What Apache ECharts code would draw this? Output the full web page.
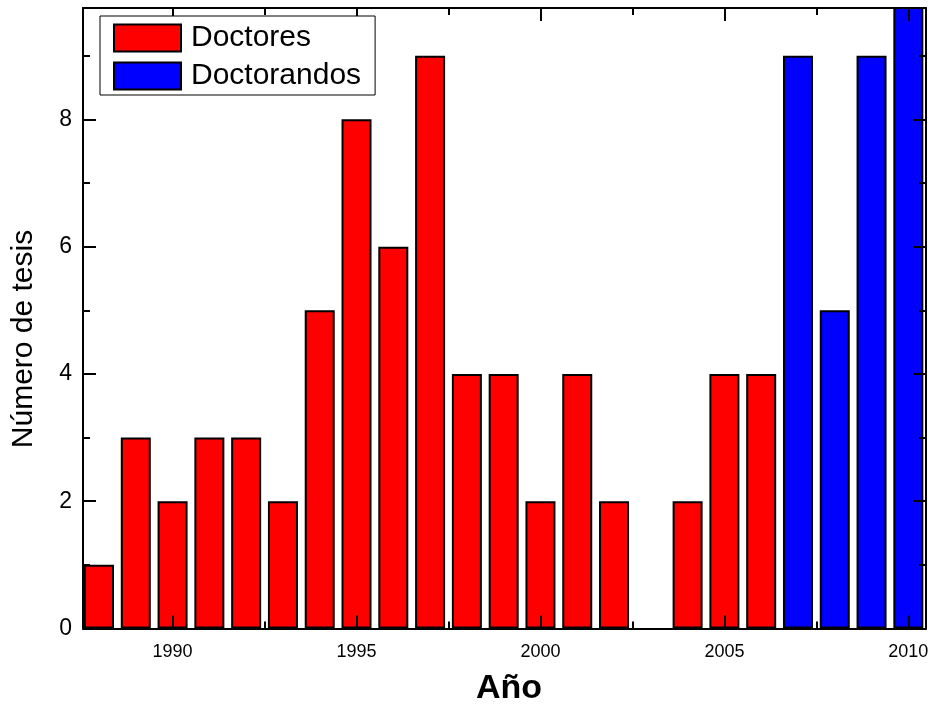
<!DOCTYPE html>
<html>
<head>
<meta charset="utf-8">
<script src="https://cdn.jsdelivr.net/npm/echarts@6/dist/echarts.min.js"></script>
<style>html,body{margin:0;padding:0;background:#fff}#c{width:933px;height:707px}</style>
</head>
<body>
<div id="c"></div>
<script>
var doctoresYears = [1988,1989,1990,1991,1992,1993,1994,1995,1996,1997,1998,1999,2000,2001,2002,2003,2004,2005,2006];
var doctoresValues = [1,3,2,3,3,2,5,8,6,9,4,4,2,4,2,0,2,4,4];
var doctorandosYears = [2007,2008,2009,2010];
var doctorandosValues = [9,5,9,10];
var xMajorTicks = [1990,1995,2000,2005,2010];
var xMinorTicks = [1992.5,1997.5,2002.5,2007.5];
var yMajorTicks = [0,2,4,6,8];
var yMinorTicks = [1,3,5,7,9];
var xMin = 1987.565, xMax = 2010.48, yMin = 0, yMax = 9.75;

var FONT = 'Liberation Sans, Arial, sans-serif';
var gridPos = {left: 83, right: 7, top: 8, bottom: 78.5};

function xAx(gridIndex, pos, ticks, len, labels, showLine) {
  return {
    type: 'value', gridIndex: gridIndex, position: pos, min: xMin, max: xMax, z: 5,
    axisLine: {show: showLine, onZero: false, lineStyle: {color: '#000', width: 2}},
    axisTick: {show: true, inside: true, length: len, customValues: ticks, lineStyle: {color: '#000', width: 2}},
    axisLabel: labels ? {show: true, customValues: ticks, color: '#000', fontFamily: FONT, fontSize: 18, margin: 15,
      formatter: function (v) { return String(Math.round(v)); }} : {show: false},
    splitLine: {show: false}
  };
}
function yAx(gridIndex, pos, ticks, len, labels, showLine) {
  return {
    type: 'value', gridIndex: gridIndex, position: pos, min: yMin, max: yMax, z: 5,
    axisLine: {show: showLine, onZero: false, lineStyle: {color: '#000', width: 2}},
    axisTick: {show: true, inside: true, length: len, customValues: ticks, lineStyle: {color: '#000', width: 2}},
    axisLabel: labels ? {show: true, customValues: ticks, color: '#000', fontFamily: FONT, fontSize: 23, margin: 11} : {show: false},
    splitLine: {show: false}
  };
}
function pairs(years, values) {
  var out = [];
  for (var i = 0; i < years.length; i++) {
    if (values[i] > 0) out.push([years[i], values[i]]);
  }
  return out;
}

var chart = echarts.init(document.getElementById('c'), null, {renderer: 'canvas'});
chart.setOption({
  animation: false,
  backgroundColor: '#fff',
  grid: [
    Object.assign({}, gridPos),
    Object.assign({}, gridPos)
  ],
  xAxis: [
    xAx(0, 'bottom', xMajorTicks, 13, true, true),
    xAx(0, 'top', xMajorTicks, 13, false, true),
    xAx(1, 'bottom', xMinorTicks, 7, false, false),
    xAx(1, 'top', xMinorTicks, 7, false, false)
  ],
  yAxis: [
    yAx(0, 'left', yMajorTicks, 13, true, true),
    yAx(0, 'right', yMajorTicks, 13, false, true),
    yAx(1, 'left', yMinorTicks, 7, false, false),
    yAx(1, 'right', yMinorTicks, 7, false, false)
  ],
  legend: {
    left: 100, top: 16, orient: 'vertical', z: 10,
    backgroundColor: '#fff', borderColor: '#000', borderWidth: 1,
    padding: [7, 14, 4, 13],
    itemWidth: 67, itemHeight: 27, itemGap: 8,
    icon: 'rect',
    textStyle: {color: '#000', fontFamily: FONT, fontSize: 30, padding: [0, 0, 0, 5]},
    data: ['Doctores', 'Doctorandos']
  },
  series: [
    {
      name: 'Doctores', type: 'bar', xAxisIndex: 0, yAxisIndex: 0,
      barWidth: 30, barGap: '-100%', clip: true,
      itemStyle: {color: '#ff0000', borderColor: '#000', borderWidth: 2},
      data: pairs(doctoresYears, doctoresValues)
    },
    {
      name: 'Doctorandos', type: 'bar', xAxisIndex: 0, yAxisIndex: 0,
      barWidth: 30, barGap: '-100%', clip: true,
      itemStyle: {color: '#0000ff', borderColor: '#000', borderWidth: 2},
      data: pairs(doctorandosYears, doctorandosValues)
    }
  ],
  graphic: [
    {type: 'text', left: 516 - 40, top: 690 - 18, z: 10,
     style: {text: 'Año', fill: '#000', font: 'bold 34px ' + FONT, width: 80, align: 'center'}},
    {type: 'text', x: 24, y: 339, rotation: Math.PI / 2, z: 10,
     style: {text: 'Número de tesis', fill: '#000', font: '30px ' + FONT, align: 'center', verticalAlign: 'middle'}}
  ]
});
</script>
</body>
</html>
